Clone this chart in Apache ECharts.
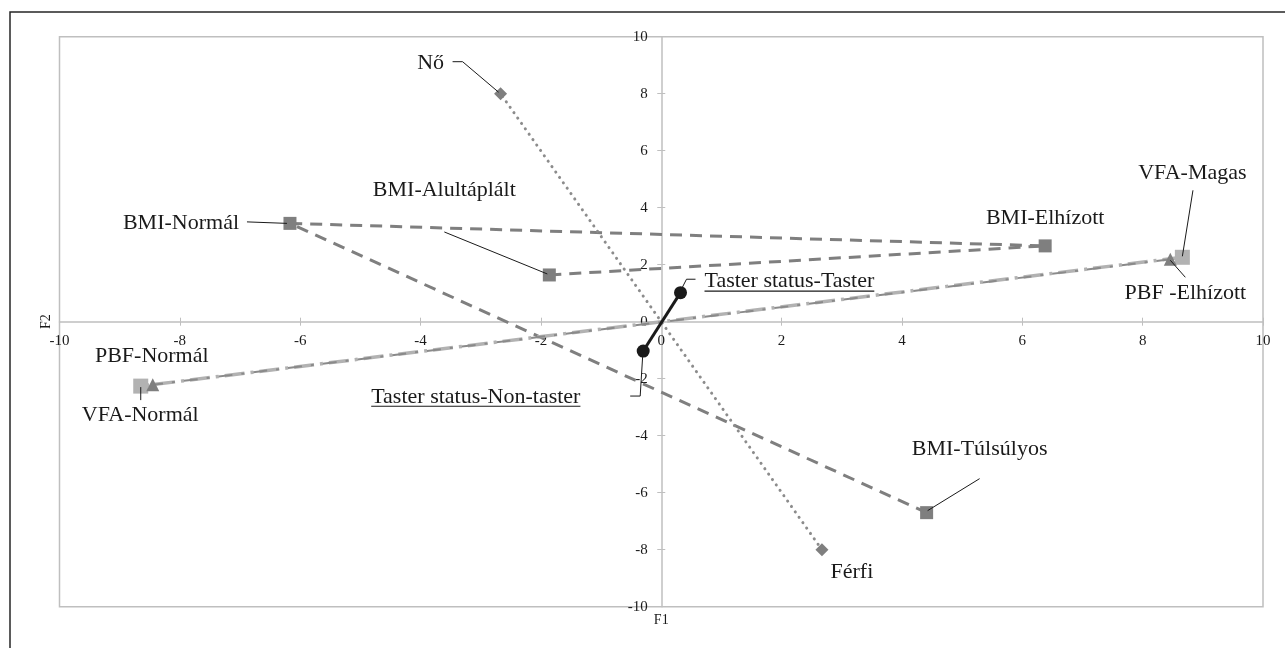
<!DOCTYPE html>
<html>
<head>
<meta charset="utf-8">
<script src="https://cdn.jsdelivr.net/npm/echarts@6/dist/echarts.min.js"></script>
<style>
html,body{margin:0;padding:0;background:#fff;}
#c{width:1285px;height:648px;}
</style>
</head>
<body>
<div id="c"></div>
<script>
// ---- data ----
const axisMin = -10, axisMax = 10, axisStep = 2;
const tickValues = [-10, -8, -6, -4, -2, 0, 2, 4, 6, 8, 10];
const tickLabels = ['-10', '-8', '-6', '-4', '-2', '0', '2', '4', '6', '8', '10'];

const bmiNames = ['BMI-Alultáplált', 'BMI-Elhízott', 'BMI-Normál', 'BMI-Túlsúlyos'];
const bmiX = [-1.86, 6.38, -6.17, 4.41];
const bmiY = [1.64, 2.66, 3.45, -6.70];

const sexNames = ['Férfi', 'Nő'];
const sexX = [2.67, -2.67];
const sexY = [-8.0, 8.0];

const vfaNames = ['VFA-Magas', 'VFA-Normál'];
const vfaX = [8.66, -8.65];
const vfaY = [2.26, -2.26];

const pbfNames = ['PBF -Elhízott', 'PBF-Normál'];
const pbfX = [8.46, -8.45];
const pbfY = [2.19, -2.21];

const tasterNames = ['Taster status-Non-taster', 'Taster status-Taster'];
const tasterX = [-0.30, 0.32];
const tasterY = [-1.03, 1.02];

// ---- label placement (pixel offsets from the point) ----
const labelCfg = {
  'BMI-Alultáplált': {dx: -105, dy: -85, lead: [[-105, -43], [-2, -1]]},
  'BMI-Elhízott': {dx: 0, dy: -28},
  'BMI-Normál': {dx: -109, dy: 0, lead: [[-43, -1.5], [-3, 0]]},
  'BMI-Túlsúlyos': {dx: 53, dy: -63, lead: [[53, -34], [1, -2]]},
  'Férfi': {dx: 30, dy: 23},
  'Nő': {dx: -70, dy: -30, lead: [[-48, -32], [-38, -32], [-2, -1.5]]},
  'VFA-Magas': {dx: 10, dy: -84, lead: [[10.6, -67], [0, -1]]},
  'VFA-Normál': {dx: -0.5, dy: 29, lead: [[0, 1], [0, 14]]},
  'PBF -Elhízott': {dx: 15, dy: 33.5, lead: [[15, 18], [0, 1]]},
  'PBF-Normál': {dx: -1, dy: -28},
  'Taster status-Non-taster': {dx: -272, dy: 45.7, align: 'left', underline: true, lead: [[-0.6, 6], [-3, 45], [-13, 45]]},
  'Taster status-Taster': {dx: 24, dy: -11, align: 'left', underline: true, lead: [[1.7, -5], [6, -13.4], [15, -13.4]]}
};

const FONT = '"Liberation Serif", "Times New Roman", serif';
const LABEL_SIZE = 22;
const TEXT_COLOR = '#1a1a1a';
const AXIS_COLOR = '#bfbfbf';
const TICK_TEXT = {fontFamily: FONT, fontSize: 15, color: '#1a1a1a', textBorderWidth: 0};

function pts(names, xs, ys) {
  return names.map((n, i) => {
    const c = labelCfg[n] || {};
    return {
      name: n,
      value: [xs[i], ys[i]],
      label: {offset: [c.dx || 0, c.dy || 0], align: c.align || 'center'}
    };
  });
}

const labelBase = {
  show: true,
  position: 'inside',
  formatter: '{b}',
  fontFamily: FONT,
  fontSize: LABEL_SIZE,
  color: TEXT_COLOR,
  textBorderWidth: 0,
  verticalAlign: 'middle'
};

function mkSeries(name, names, xs, ys, symbol, size, color, lineStyle, z) {
  return {
    name: name,
    type: 'line',
    data: pts(names, xs, ys),
    symbol: symbol,
    symbolSize: size,
    showSymbol: true,
    itemStyle: {color: color, opacity: 1},
    lineStyle: lineStyle,
    label: labelBase,
    emphasis: {disabled: true},
    silent: true,
    z: z,
    animation: false
  };
}

// tick-label series: labels sit next to the axes that cross at zero
function tickSeries(horizontal) {
  return {
    type: 'scatter',
    data: tickValues.map((v, i) => ({name: tickLabels[i], value: horizontal ? [v, 0] : [0, v]})),
    symbol: 'circle',
    symbolSize: 1,
    itemStyle: {color: 'rgba(0,0,0,0)', opacity: 1},
    label: Object.assign({
      show: true, position: 'inside', formatter: '{b}', opacity: 1,
      offset: horizontal ? [0, 19.5] : [-13.5, 0],
      align: horizontal ? 'center' : 'right',
      verticalAlign: 'middle'
    }, TICK_TEXT),
    emphasis: {disabled: true},
    silent: true,
    z: 1,
    animation: false
  };
}

const tickCommon = {show: true, length: 4, lineStyle: {color: AXIS_COLOR, width: 1}};

const chart = echarts.init(document.getElementById('c'), null, {renderer: 'canvas'});

chart.setOption({
  animation: false,
  backgroundColor: '#ffffff',
  grid: {
    left: 59.5, right: 22, top: 36.7, bottom: 41.3,
    show: true, borderColor: AXIS_COLOR, borderWidth: 1.5, backgroundColor: 'transparent'
  },
  xAxis: [
    {
      type: 'value', min: axisMin, max: axisMax, interval: axisStep,
      axisLine: {onZero: true, lineStyle: {color: AXIS_COLOR, width: 1.5}},
      axisTick: tickCommon,
      axisLabel: {show: false},
      splitLine: {show: false},
      name: 'F2', nameLocation: 'start', nameRotate: 90, nameGap: 6, nameMoveOverlap: false,
      nameTextStyle: {fontFamily: FONT, fontSize: 14, color: '#1a1a1a'}
    },
    {
      type: 'value', min: axisMin, max: axisMax, interval: axisStep, position: 'bottom',
      axisLine: {show: false, onZero: true},
      axisTick: Object.assign({inside: true}, tickCommon),
      axisLabel: {show: false},
      splitLine: {show: false}
    }
  ],
  yAxis: [
    {
      type: 'value', min: axisMin, max: axisMax, interval: axisStep,
      axisLine: {onZero: true, lineStyle: {color: AXIS_COLOR, width: 1.5}},
      axisTick: tickCommon,
      axisLabel: {show: false},
      splitLine: {show: false},
      name: 'F1', nameLocation: 'start', nameGap: 7, nameMoveOverlap: false,
      nameTextStyle: {fontFamily: FONT, fontSize: 14, color: '#1a1a1a'}
    },
    {
      type: 'value', min: axisMin, max: axisMax, interval: axisStep, position: 'left',
      axisLine: {show: false, onZero: true},
      axisTick: Object.assign({inside: true}, tickCommon),
      axisLabel: {show: false},
      splitLine: {show: false}
    }
  ],
  series: [
    tickSeries(true),
    tickSeries(false),
    mkSeries('BMI', bmiNames, bmiX, bmiY, 'rect', 13, '#7f7f7f',
      {color: '#7f7f7f', width: 3, type: [12, 8]}, 3),
    mkSeries('Nem', sexNames, sexX, sexY, 'diamond', 13, '#7f7f7f',
      {color: '#8c8c8c', width: 3, type: [0.1, 6.5], cap: 'round'}, 4),
    mkSeries('VFA', vfaNames, vfaX, vfaY, 'rect', 15, '#b2b2b2',
      {color: '#b2b2b2', width: 3.5, type: [20, 6, 3, 6]}, 5),
    mkSeries('PBF', pbfNames, pbfX, pbfY, 'triangle', 13, '#7f7f7f',
      {color: '#8a8a8a', width: 2, type: [14, 9, 3, 9]}, 6),
    mkSeries('Taster status', tasterNames, tasterX, tasterY, 'circle', 13, '#1a1a1a',
      {color: '#1a1a1a', width: 3, type: 'solid'}, 7)
  ]
});

// ---- leader lines, underlines and outer frame ----
const measureCtx = document.createElement('canvas').getContext('2d');
measureCtx.font = LABEL_SIZE + 'px ' + FONT;

const groups = [
  [bmiNames, bmiX, bmiY], [sexNames, sexX, sexY], [vfaNames, vfaX, vfaY],
  [pbfNames, pbfX, pbfY], [tasterNames, tasterX, tasterY]
];
const graphics = [{
  type: 'rect', silent: true, z: 100,
  shape: {x: 10, y: 12, width: 1400, height: 800},
  style: {fill: null, stroke: '#262626', lineWidth: 1.5}
}];
groups.forEach(([names, xs, ys]) => {
  names.forEach((n, i) => {
    const c = labelCfg[n];
    if (!c) return;
    const p = chart.convertToPixel({xAxisIndex: 0, yAxisIndex: 0}, [xs[i], ys[i]]);
    if (c.lead) {
      graphics.push({
        type: 'polyline', silent: true, z: 100,
        shape: {points: c.lead.map(([a, b]) => [p[0] + a, p[1] + b])},
        style: {stroke: TEXT_COLOR, lineWidth: 1, fill: null}
      });
    }
    if (c.underline) {
      const w = measureCtx.measureText(n).width;
      const left = p[0] + c.dx;
      const y = p[1] + c.dy + 9.5;
      graphics.push({
        type: 'line', silent: true, z: 100,
        shape: {x1: left, y1: y, x2: left + w, y2: y},
        style: {stroke: TEXT_COLOR, lineWidth: 1.2}
      });
    }
  });
});
chart.setOption({graphic: graphics});
</script>
</body>
</html>
